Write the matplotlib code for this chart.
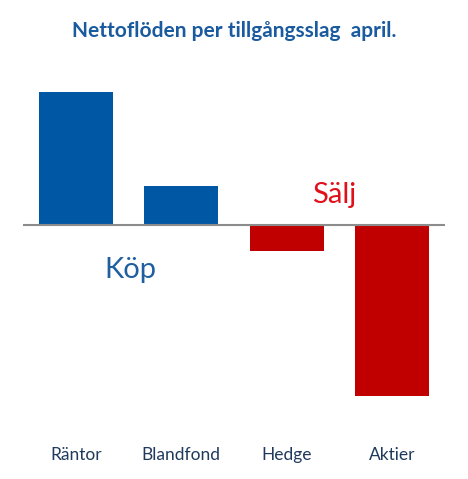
import matplotlib
matplotlib.use("Agg")
import matplotlib.pyplot as plt

categories = ["Räntor", "Blandfond", "Hedge", "Aktier"]
values = [133, 39, -26, -171]
title = "Nettoflöden per tillgångsslag  april."

W, H = 468, 479
fig = plt.figure(figsize=(W/100, H/100), dpi=100)
ax = fig.add_axes([23/W, 1-425/H, 422/W, 360/H])

colors = ["#0057A3" if v >= 0 else "#C00000" for v in values]
x = list(range(len(categories)))
ax.bar(x, values, width=0.70, color=colors, zorder=2)
ax.axhline(0, color="#8c8c8c", lw=1.5, zorder=3)
ax.set_xlim(-0.5, 3.5)
ax.set_ylim(-200, 160)
for s in ax.spines.values():
    s.set_visible(False)
ax.set_yticks([])
ax.set_xticks([])

for xi, lab in zip(x, categories):
    fig.text((23 + (xi + 0.5) * 105.5)/W, 1-455/H, lab, ha="center", va="center",
             fontsize=12.5, color="#1F3A5C", family="Lato")

ax.text(0.52, -45, "Köp", ha="center", va="center", fontsize=21, color="#1F5FA0", family="Lato")
ax.text(2.45, 30, "Sälj", ha="center", va="center", fontsize=21, color="#E0101A", family="Lato")

fig.text(234/W, 1-31/H, title, ha="center", va="center", fontsize=15,
         fontweight="bold", color="#1A5A9E", family="Lato")

fig.savefig("out.png", dpi=100)
